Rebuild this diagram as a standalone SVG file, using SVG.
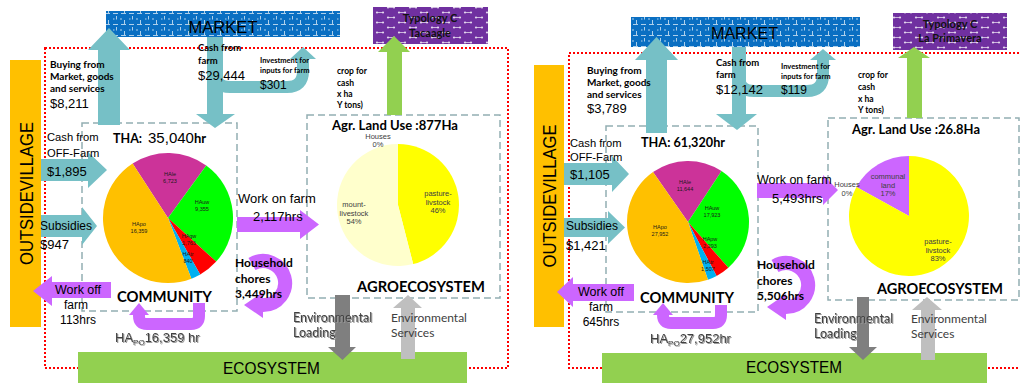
<svg xmlns="http://www.w3.org/2000/svg" width="1020" height="383" viewBox="0 0 1020 383">
<defs>
  <pattern id="mktFill" width="16" height="11" patternUnits="userSpaceOnUse">
    <rect width="16" height="11" fill="#0a6fc2"/>
    <path d="M1 2.5h5M9 2.5h5M4.5 5v3.5M12.5 0v2M12.5 9v2M1 8h1.5M8 8h2" stroke="#ffffff" stroke-width="0.9" opacity="0.75"/>
  </pattern>
  <pattern id="typFill" width="22" height="10" patternUnits="userSpaceOnUse">
    <rect width="22" height="10" fill="#7030a0"/>
    <g opacity="0.8">
      <path d="M3 2.5h6M14 7.5h6" stroke="#ffffff" stroke-width="0.8"/>
      <circle cx="3" cy="2.5" r="1.1" fill="#ffffff"/>
      <circle cx="9" cy="2.5" r="1.1" fill="#ffffff"/>
      <circle cx="14" cy="7.5" r="1.1" fill="#ffffff"/>
      <circle cx="20" cy="7.5" r="1.1" fill="#ffffff"/>
    </g>
  </pattern>
  <filter id="soft" x="-10%" y="-20%" width="130%" height="150%">
    <feDropShadow dx="1" dy="1" stdDeviation="0.4" flood-color="#9a9a9a"/>
  </filter>
</defs>
<style>
  .frame{fill:none;stroke:#ff0000;stroke-width:2;stroke-dasharray:2 2}
  .zone{fill:none;stroke:#93aeb2;stroke-width:1.5;stroke-dasharray:7 4}
  .teal{fill:#76c0c6}
  .tealS{fill:none;stroke:#76c0c6;stroke-width:12}
  .purp{fill:#cc66ff}
  .purpS{fill:none;stroke:#cc66ff}
  .grn{fill:#92d050}
  .c{font-family:Lato,'Liberation Sans',sans-serif}
  .a{font-family:'Liberation Sans',Arial,sans-serif}
  .b{font-weight:bold}
  .pl{font-family:'Liberation Sans',Arial,sans-serif;font-size:7.5px;fill:#404040;text-anchor:middle}
  .hl{font-family:'Liberation Sans',Arial,sans-serif;font-size:5.5px;fill:#1a1a1a;text-anchor:middle}
  .mid{text-anchor:middle}
  .grey{fill:#404040}
</style>

<!-- ===================== Typology C : Tacaagle ===================== -->
<g id="tacaagle">
  <rect class="frame" x="45" y="48" width="463" height="320"/>

  <g id="t1-outside">
    <rect x="10" y="60" width="31" height="267" fill="#ffc000"/>
    <text class="a" transform="translate(33 193.5) rotate(-90)" text-anchor="middle" font-size="19" textLength="143" lengthAdjust="spacingAndGlyphs">OUTSIDEVILLAGE</text>
  </g>
  <g id="t1-ecosystem">
    <rect x="78" y="352" width="389" height="31" fill="#92d050"/>
    <text class="a mid" x="271.5" y="374" font-size="17" textLength="97" lengthAdjust="spacingAndGlyphs">ECOSYSTEM</text>
  </g>
  <g id="t1-market">
    <rect x="106" y="11" width="234" height="26" fill="url(#mktFill)"/>
    <text class="a mid" x="223" y="33" font-size="17" textLength="69" lengthAdjust="spacingAndGlyphs">MARKET</text>
  </g>
  <g id="t1-typology">
    <rect x="373" y="7" width="115" height="37" fill="url(#typFill)"/>
    <text class="c b mid" x="430" y="22" font-size="11" fill="#111111">Typology C</text>
    <text class="c b mid" x="430" y="37" font-size="11" fill="#111111">Tacaagle</text>
  </g>

  <g id="t1-community">
    <rect class="zone" x="82" y="123" width="155" height="188"/>
    <path d="M168 218L132.60 163.48A65 65 0 0 1 206.27 165.46Z" fill="#cc3399"/>
    <path d="M168 218L206.27 165.46A65 65 0 0 1 216.19 261.62Z" fill="#00ff00"/>
    <path d="M168 218L216.19 261.62A65 65 0 0 1 200.21 274.46Z" fill="#ff0000"/>
    <path d="M168 218L200.21 274.46A65 65 0 0 1 191.38 278.65Z" fill="#00b0f0"/>
    <path d="M168 218L191.38 278.65A65 65 0 0 1 132.60 163.48Z" fill="#ffc000"/>
    <text class="hl" x="170" y="176">HAle<tspan x="170" dy="7">6,723</tspan></text>
    <text class="hl" x="202" y="204">HAuw<tspan x="202" dy="7">9,355</tspan></text>
    <text class="hl" x="189" y="238">HAgw<tspan x="189" dy="7">1,763</tspan></text>
    <text class="hl" x="188" y="256">HAtr<tspan x="188" dy="7">840</tspan></text>
    <text class="hl" x="139" y="226">HApo<tspan x="139" dy="7">16,359</tspan></text>
    <text x="113" y="143"><tspan class="c b" font-size="12.5">THA:</tspan><tspan class="a" font-size="15" dx="6">35,040</tspan><tspan class="c b" font-size="13">hr</tspan></text>
    <text class="c b mid" x="164.5" y="302" font-size="16" textLength="95" lengthAdjust="spacingAndGlyphs">COMMUNITY</text>
  </g>

  <g id="t1-agroecosystem">
    <rect class="zone" x="307" y="115" width="193" height="183"/>
    <path d="M398 205L398 144A61 61 0 0 1 413.17 264.08Z" fill="#ffff00"/>
    <path d="M398 205L413.17 264.08A61 61 0 1 1 398 144Z" fill="#ffffcc"/>
    <text class="pl" x="378" y="139">Houses<tspan x="378" dy="8">0%</tspan></text>
    <text class="pl" x="438" y="196">pasture-<tspan x="438" dy="8.5">livstock</tspan><tspan x="438" dy="8.5">46%</tspan></text>
    <text class="pl" x="354" y="207">mount-<tspan x="354" dy="8.5">livestock</tspan><tspan x="354" dy="8.5">54%</tspan></text>
    <text class="c b" x="332" y="130" font-size="12.5" textLength="126" lengthAdjust="spacingAndGlyphs">Agr. Land Use :877Ha</text>
    <text class="c b mid" x="421" y="292" font-size="16" textLength="128" lengthAdjust="spacingAndGlyphs">AGROECOSYSTEM</text>
  </g>
</g>

<!-- ===================== Typology C : La Primavera ===================== -->
<g id="primavera">
  <rect class="frame" x="569" y="53" width="455" height="315"/>

  <g id="t2-outside">
    <rect x="534" y="65" width="30" height="262" fill="#ffc000"/>
    <text class="a" transform="translate(556 196) rotate(-90)" text-anchor="middle" font-size="19" textLength="143" lengthAdjust="spacingAndGlyphs">OUTSIDEVILLAGE</text>
  </g>
  <g id="t2-ecosystem">
    <rect x="602" y="353" width="385" height="30" fill="#92d050"/>
    <text class="a mid" x="794" y="373" font-size="17" textLength="96" lengthAdjust="spacingAndGlyphs">ECOSYSTEM</text>
  </g>
  <g id="t2-market">
    <rect x="631" y="17" width="229" height="30" fill="url(#mktFill)"/>
    <text class="a mid" x="744.5" y="39" font-size="17" textLength="67" lengthAdjust="spacingAndGlyphs">MARKET</text>
  </g>
  <g id="t2-typology">
    <rect x="893" y="13" width="114" height="37" fill="url(#typFill)"/>
    <text class="c b mid" x="950" y="28" font-size="11" fill="#111111">Typology C</text>
    <text class="c b mid" x="950" y="42" font-size="11" fill="#111111">La Primavera</text>
  </g>

  <g id="t2-community">
    <rect class="zone" x="606" y="126" width="152" height="186"/>
    <path d="M688 222L653.01 172.03A61 61 0 0 1 721.54 171.05Z" fill="#cc3399"/>
    <path d="M688 222L721.54 171.05A61 61 0 0 1 728.35 267.75Z" fill="#00ff00"/>
    <path d="M688 222L728.35 267.75A61 61 0 0 1 716.60 275.88Z" fill="#ff0000"/>
    <path d="M688 222L716.60 275.88A61 61 0 0 1 707.97 279.64Z" fill="#00b0f0"/>
    <path d="M688 222L707.97 279.64A61 61 0 0 1 653.01 172.03Z" fill="#ffc000"/>
    <text class="hl" x="685" y="184">HAle<tspan x="685" dy="7">11,644</tspan></text>
    <text class="hl" x="712" y="210">HAuw<tspan x="712" dy="7">17,923</tspan></text>
    <text class="hl" x="710" y="241">HApw<tspan x="710" dy="7">2,293</tspan></text>
    <text class="hl" x="708" y="264">HAtr<tspan x="708" dy="7">1,507</tspan></text>
    <text class="hl" x="660" y="229">HApo<tspan x="660" dy="7">27,952</tspan></text>
    <text class="c b" x="641" y="147" font-size="13.5" textLength="84" lengthAdjust="spacingAndGlyphs">THA: 61,320hr</text>
    <text class="c b mid" x="687" y="303" font-size="16" textLength="94" lengthAdjust="spacingAndGlyphs">COMMUNITY</text>
  </g>

  <g id="t2-agroecosystem">
    <rect class="zone" x="828" y="118" width="191" height="182"/>
    <path d="M909 216L856.42 187.09A60 60 0 0 1 909 156Z" fill="#cc66ff"/>
    <path d="M909 216L909 156A60 60 0 1 1 856.42 187.09Z" fill="#ffff00"/>
    <text class="pl" x="847" y="187">Houses<tspan x="847" dy="8.5">0%</tspan></text>
    <text class="pl" x="888" y="179">communal<tspan x="888" dy="8.5">land</tspan><tspan x="888" dy="8.5">17%</tspan></text>
    <text class="pl" x="938" y="244">pasture-<tspan x="938" dy="8.5">livstock</tspan><tspan x="938" dy="8.5">83%</tspan></text>
    <text class="c b" x="852" y="134" font-size="12.5" textLength="128" lengthAdjust="spacingAndGlyphs">Agr. Land Use :26.8Ha</text>
    <text class="c b mid" x="940" y="294" font-size="16" textLength="126" lengthAdjust="spacingAndGlyphs">AGROECOSYSTEM</text>
  </g>
</g>

<!-- ===================== flows ===================== -->
<g id="connectors">
  <!-- Tacaagle flows -->
  <path class="teal" d="M98 125L98 50L88 50L109 28L130 50L120 50L120 125Z"/>
  <path class="tealS" d="M215 60L215 72Q215 87 230 87L287 87Q303 87 303 71L303 59"/>
  <path class="teal" d="M290 59L316 59L303 47Z"/>
  <path class="teal" d="M207 37L223 37L223 114L235 114L215 128L196 114L207 114Z"/>
  <path class="grn" d="M387 115L387 52L378 52L394 36L410 52L402 52L402 115Z"/>
  <path class="teal" d="M41 159L88 159L88 152L107 170L88 188L88 181L41 181Z"/>
  <path class="teal" d="M41 215L82 215L82 207L97 226L82 245L82 237L41 237Z"/>
  <path class="purp" d="M237 217L300 217L300 210L319 224.5L300 239L300 232L237 232Z"/>
  <path class="purp" d="M111 282L52 282L52 276L33 291L52 306L52 298L111 298Z"/>
  <path class="purpS" stroke-width="14" d="M252 264A22 22 0 1 1 263 305"/>
  <path class="purp" d="M263 318L263 292L244 305Z"/>
  <path class="purpS" stroke-width="12" d="M199 303L199 316Q199 324 191 324L147 324Q139 324 139 316L139 314"/>
  <path class="purp" d="M129 315L149 315L139 303Z"/>
  <path d="M335 295L350 295L350 347L356 347L342.5 360L328 347L335 347Z" fill="#7f7f7f"/>
  <path d="M401 359L415 359L415 308L422 308L408 295L393 308L401 308Z" fill="#bfbfbf"/>

  <!-- La Primavera flows -->
  <path class="teal" d="M646 133L646 60L635 60L656.5 37L678 60L667 60L667 133Z"/>
  <path class="tealS" d="M739 62L739 76Q739 91 754 91L807 91Q823 91 823 75L823 60"/>
  <path class="teal" d="M810 60L836 60L823 49Z"/>
  <path class="teal" d="M732 47L746 47L746 114L757 114L737 130L716 114L732 114Z"/>
  <path class="grn" d="M907 118L907 58L898 58L914 47L930 58L922 58L922 118Z"/>
  <path class="teal" d="M564 163L612 163L612 156L629 174L612 192L612 185L564 185Z"/>
  <path class="teal" d="M564 218L608 218L608 211L625 227.5L608 244L608 237L564 237Z"/>
  <path class="purp" d="M757 183L823 183L823 175L838 190L823 205L823 198L757 198Z"/>
  <path class="purp" d="M634 284L573 284L573 277L557 292L573 307L573 301L634 301Z"/>
  <path class="purpS" stroke-width="14" d="M775 266A22 22 0 1 1 786 307"/>
  <path class="purp" d="M786 320L786 294L767 307Z"/>
  <path class="purpS" stroke-width="12" d="M721 305L721 315Q721 323 713 323L671 323Q663 323 663 315L663 314"/>
  <path class="purp" d="M653 315L673 315L663 303Z"/>
  <path d="M857 297L869 297L869 347L877 347L863 360L849 347L857 347Z" fill="#7f7f7f"/>
  <path d="M921 360L935 360L935 310L942 310L927 297L912 310L921 310Z" fill="#bfbfbf"/>
</g>

<!-- ===================== flow labels ===================== -->
<g id="flow-labels">
  <!-- Tacaagle -->
  <text class="c b" x="50" y="68" font-size="10">Buying from</text>
  <text class="c b" x="50" y="80" font-size="10">Market, goods</text>
  <text class="c b" x="50" y="92" font-size="10">and services</text>
  <text class="a" x="50" y="108" font-size="13">$8,211</text>
  <text class="c b" x="198" y="51" font-size="9.5">Cash from</text>
  <text class="c b" x="198" y="64" font-size="9.5">farm</text>
  <text class="a" x="198" y="80" font-size="13">$29,444</text>
  <text class="c b" x="260" y="63" font-size="7.5">Investment for</text>
  <text class="c b" x="260" y="73" font-size="7.5">inputs for farm</text>
  <text class="a" x="260" y="89" font-size="12">$301</text>
  <text class="c b" x="337" y="74" font-size="8.5">crop for</text>
  <text class="c b" x="337" y="85.5" font-size="8.5">cash</text>
  <text class="c b" x="337" y="97" font-size="8.5">x ha</text>
  <text class="c b" x="337" y="108" font-size="8.5">Y tons)</text>
  <text class="a" x="47" y="141" font-size="11.2">Cash from</text>
  <text class="a" x="47" y="157" font-size="11.2">OFF-Farm</text>
  <text class="a" x="47" y="176" font-size="13">$1,895</text>
  <text class="a" x="40" y="230" font-size="12">Subsidies</text>
  <text class="a" x="40" y="249" font-size="13">$947</text>
  <text class="a" x="238" y="203" font-size="13">Work on farm</text>
  <text class="a" x="253" y="221" font-size="13">2,117hrs</text>
  <text class="a mid" x="78" y="294" font-size="12.5">Work off</text>
  <text class="a mid" x="76" y="309" font-size="12">farm</text>
  <text class="a mid" x="78" y="324" font-size="12">113hrs</text>
  <text class="c b" x="235" y="267" font-size="12">Household</text>
  <text class="c b" x="235" y="283" font-size="12">chores</text>
  <text class="c b" x="235" y="298" font-size="12">3,449hrs</text>
  <text class="a grey" x="115" y="342" font-size="13" filter="url(#soft)">HA<tspan font-size="8" dy="3">PO</tspan><tspan dy="-3">16,359 hr</tspan></text>
  <text class="c grey" x="293" y="322" font-size="12.5" filter="url(#soft)">Environmental</text>
  <text class="c grey" x="293" y="337" font-size="12.5" filter="url(#soft)">Loading</text>
  <text class="c grey" x="391" y="322" font-size="12">Environmental</text>
  <text class="c grey" x="391" y="337" font-size="12">Services</text>

  <!-- La Primavera -->
  <text class="c b" x="587" y="74" font-size="10">Buying from</text>
  <text class="c b" x="587" y="86" font-size="10">Market, goods</text>
  <text class="c b" x="587" y="98" font-size="10">and services</text>
  <text class="a" x="587" y="113" font-size="13">$3,789</text>
  <text class="c b" x="716" y="66" font-size="9.5">Cash from</text>
  <text class="c b" x="716" y="78" font-size="9.5">farm</text>
  <text class="a" x="716" y="94" font-size="13">$12,142</text>
  <text class="c b" x="781" y="69" font-size="7.5">Investment for</text>
  <text class="c b" x="781" y="79" font-size="7.5">inputs for farm</text>
  <text class="a" x="781" y="94" font-size="12">$119</text>
  <text class="c b" x="858" y="78" font-size="8.5">crop for</text>
  <text class="c b" x="858" y="90" font-size="8.5">cash</text>
  <text class="c b" x="858" y="102" font-size="8.5">x ha</text>
  <text class="c b" x="858" y="113" font-size="8.5">Y tons)</text>
  <text class="a" x="570" y="147" font-size="11.2">Cash from</text>
  <text class="a" x="570" y="161" font-size="11.2">OFF-Farm</text>
  <text class="a" x="570" y="179" font-size="13">$1,105</text>
  <text class="a" x="566" y="230" font-size="12">Subsidies</text>
  <text class="a" x="566" y="250" font-size="13">$1,421</text>
  <text class="a" x="757" y="184" font-size="12.5">Work on farm</text>
  <text class="a" x="772" y="203" font-size="13">5,493hrs</text>
  <text class="a mid" x="601" y="296" font-size="12.5">Work off</text>
  <text class="a mid" x="601" y="311" font-size="12">farm</text>
  <text class="a mid" x="601" y="326" font-size="12">645hrs</text>
  <text class="c b" x="757" y="269" font-size="12">Household</text>
  <text class="c b" x="757" y="285" font-size="12">chores</text>
  <text class="c b" x="757" y="300" font-size="12">5,506hrs</text>
  <text class="a grey" x="650" y="343" font-size="13" filter="url(#soft)">HA<tspan font-size="8" dy="3">PO</tspan><tspan dy="-3">27,952hr</tspan></text>
  <text class="c grey" x="814" y="323" font-size="12.5" filter="url(#soft)">Environmental</text>
  <text class="c grey" x="814" y="338" font-size="12.5" filter="url(#soft)">Loading</text>
  <text class="c grey" x="911" y="323" font-size="12">Environmental</text>
  <text class="c grey" x="911" y="338" font-size="12">Services</text>
</g>
</svg>
